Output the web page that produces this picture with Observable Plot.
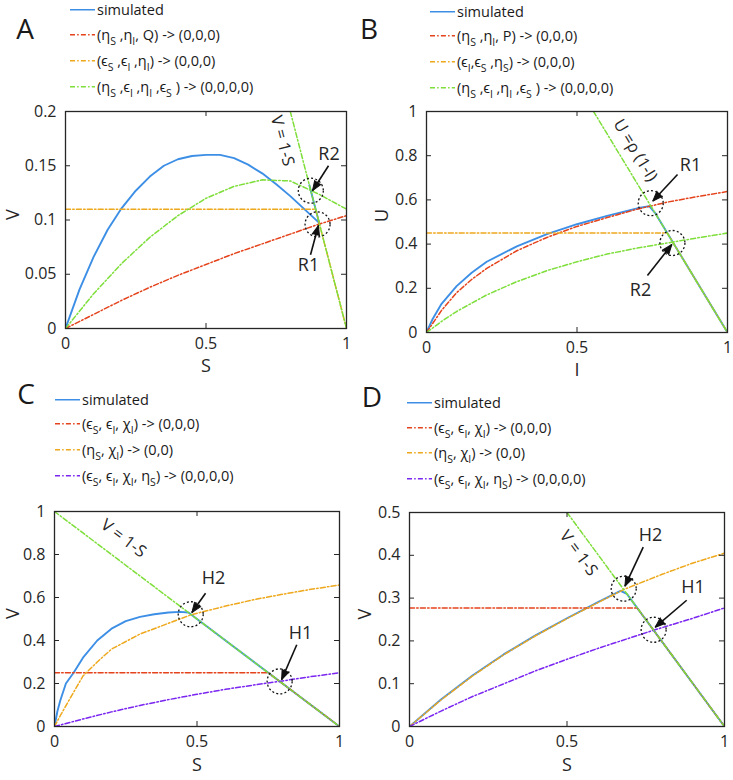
<!DOCTYPE html>
<html>
<head>
<meta charset="utf-8">
<script src="https://cdn.jsdelivr.net/npm/d3@7"></script>
<script src="https://cdn.jsdelivr.net/npm/@observablehq/plot@0.6"></script>
<style>
  html,body{margin:0;padding:0;background:#fff;}
  #fig{position:relative;width:733px;height:780px;overflow:hidden;font-family:"Open Sans",sans-serif;color:#1a1a1a;}
  .letter{position:absolute;font-size:28px;line-height:1;transform:translate(-50%,-50%);}
  .lg-row{position:absolute;display:flex;align-items:center;white-space:nowrap;font-size:14.5px;line-height:1;transform:translateY(-50%);}
  .lg-row svg{margin-right:2px;flex:none;}
  .lg-row sub{font-size:10.5px;vertical-align:-5px;line-height:0;}
</style>
</head>
<body>
<div id="fig"></div>
<script>
// ---------- Panel A : S vs V ----------
const A_xTicks = [0, 0.5, 1];
const A_yTicks = [0, 0.05, 0.1, 0.15, 0.2];
const A_simulated = [[0,0],[0.05,0.036],[0.1,0.066],[0.15,0.091],[0.2,0.111],[0.25,0.127],[0.3,0.14],[0.35,0.15],[0.4,0.156],[0.45,0.159],[0.5,0.16],[0.55,0.16],[0.6,0.157],[0.65,0.151],[0.7,0.143],[0.75,0.133],[0.8,0.122],[0.85,0.11],[0.9,0.098],[0.904,0.096],[0.868,0.132]];
const A_red = [[0,0],[0.1,0.013],[0.2,0.026],[0.3,0.038],[0.4,0.049],[0.5,0.059],[0.6,0.069],[0.7,0.078],[0.8,0.087],[0.9,0.096],[1,0.104]];
const A_orange = [[0,0.11],[0.89,0.11],[1,0]];
const A_green = [[0,0],[0.1,0.032],[0.2,0.06],[0.3,0.084],[0.4,0.104],[0.5,0.12],[0.6,0.131],[0.7,0.137],[0.8,0.136],[0.9,0.124],[1,0.11]];
const A_nullcline = [[0.8,0.2],[1,0]];
const A_legend = ["simulated", "(η<sub>S</sub> ,η<sub>I</sub>, Q) -&gt; (0,0,0)", "(ϵ<sub>S</sub> ,ϵ<sub>I</sub> ,η<sub>I</sub>) -&gt; (0,0,0)", "(η<sub>S</sub> ,ϵ<sub>I</sub> ,η<sub>I</sub> ,ϵ<sub>S</sub> ) -&gt; (0,0,0,0)"];
const A_notes = [
  {label:"R2", cx:0.873, cy:0.127, lx:0.938, ly:0.161, ax1:0.936, ay1:0.150, ax2:0.879, ay2:0.127},
  {label:"R1", cx:0.897, cy:0.096, lx:0.865, ly:0.058, ax1:0.872, ay1:0.068, ax2:0.900, ay2:0.095}
];
const A_nullText = {text:"V = 1-S", x:0.772, y:0.173};

// ---------- Panel B : I vs U ----------
const B_xTicks = [0, 0.5, 1];
const B_yTicks = [0, 0.2, 0.4, 0.6, 0.8, 1];
const B_simulated = [[0,0],[0.02,0.06],[0.05,0.13],[0.1,0.21],[0.15,0.27],[0.2,0.32],[0.3,0.39],[0.4,0.445],[0.5,0.49],[0.6,0.528],[0.7,0.562],[0.74,0.572],[0.76,0.54],[0.8,0.45],[0.82,0.405],[1,0]];
const B_red = [[0,0],[0.02,0.04],[0.05,0.1],[0.1,0.18],[0.15,0.24],[0.2,0.29],[0.3,0.37],[0.4,0.43],[0.5,0.48],[0.6,0.52],[0.7,0.558],[0.8,0.59],[0.9,0.615],[1,0.638]];
const B_orange = [[0,0.45],[0.8,0.45],[1,0]];
const B_green = [[0,0],[0.05,0.05],[0.1,0.095],[0.2,0.17],[0.3,0.23],[0.4,0.28],[0.5,0.32],[0.6,0.355],[0.7,0.382],[0.8,0.405],[0.9,0.428],[1,0.45]];
const B_nullcline = [[0.555,1],[1,0]];
const B_legend = ["simulated", "(η<sub>S</sub> ,η<sub>I</sub>, P) -&gt; (0,0,0)", "(ϵ<sub>I</sub>,ϵ<sub>S</sub> ,η<sub>S</sub>) -&gt; (0,0,0)", "(η<sub>S</sub> ,ϵ<sub>I</sub> ,η<sub>I</sub> ,ϵ<sub>S</sub> ) -&gt; (0,0,0,0)"];
const B_notes = [
  {label:"R1", cx:0.745, cy:0.585, lx:0.877, ly:0.756, ax1:0.834, ay1:0.715, ax2:0.752, ay2:0.595},
  {label:"R2", cx:0.817, cy:0.405, lx:0.711, ly:0.19, ax1:0.734, ay1:0.258, ax2:0.815, ay2:0.398}
];
const B_nullText = {text:"U =ρ (1-I)", x:0.694, y:0.824};

// ---------- Panel C : S vs V ----------
const C_xTicks = [0, 0.5, 1];
const C_yTicks = [0, 0.2, 0.4, 0.6, 0.8, 1];
const C_simulated = [[0,0],[0.01,0.07],[0.02,0.12],[0.04,0.2],[0.067,0.25],[0.1,0.32],[0.15,0.4],[0.2,0.455],[0.25,0.49],[0.3,0.51],[0.35,0.522],[0.4,0.53],[0.44,0.533],[0.47,0.53],[0.5,0.5],[1,0]];
const C_red = [[0,0.25],[0.75,0.25],[1,0]];
const C_orange = [[0,0],[0.02,0.05],[0.05,0.12],[0.1,0.235],[0.15,0.3],[0.2,0.36],[0.3,0.43],[0.4,0.48],[0.48,0.52],[0.6,0.56],[0.7,0.59],[0.8,0.615],[0.9,0.638],[1,0.658]];
const C_purple = [[0,0],[0.1,0.035],[0.2,0.068],[0.3,0.098],[0.4,0.125],[0.5,0.15],[0.6,0.173],[0.7,0.193],[0.8,0.212],[0.9,0.232],[1,0.25]];
const C_nullcline = [[0,1],[1,0]];
const C_legend = ["simulated", "(ϵ<sub>S</sub>, ϵ<sub>I</sub>, χ<sub>I</sub>) -&gt; (0,0,0)", "(η<sub>S</sub>, χ<sub>I</sub>) -&gt; (0,0)", "(ϵ<sub>S</sub>, ϵ<sub>I</sub>, χ<sub>I</sub>, η<sub>S</sub>) -&gt; (0,0,0,0)"];
const C_notes = [
  {label:"H2", cx:0.478, cy:0.522, lx:0.558, ly:0.69, ax1:0.53, ay1:0.62, ax2:0.482, ay2:0.53},
  {label:"H1", cx:0.79, cy:0.21, lx:0.863, ly:0.435, ax1:0.85, ay1:0.38, ax2:0.797, ay2:0.218}
];
const C_nullText = {text:"V = 1-S", x:0.242, y:0.875};

// ---------- Panel D : S vs V ----------
const D_xTicks = [0, 0.5, 1];
const D_yTicks = [0, 0.1, 0.2, 0.3, 0.4, 0.5];
const D_simulated = [[0,0],[0.1,0.063],[0.2,0.119],[0.3,0.169],[0.4,0.213],[0.5,0.253],[0.6,0.291],[0.67,0.317],[0.69,0.31],[1,0]];
const D_red = [[0,0.277],[0.723,0.277],[1,0]];
const D_orange = [[0,0],[0.1,0.062],[0.2,0.118],[0.3,0.168],[0.4,0.212],[0.5,0.252],[0.6,0.29],[0.68,0.32],[0.8,0.355],[0.9,0.382],[1,0.405]];
const D_purple = [[0,0],[0.1,0.036],[0.2,0.07],[0.3,0.1],[0.4,0.13],[0.5,0.157],[0.6,0.183],[0.7,0.207],[0.775,0.225],[0.9,0.253],[1,0.277]];
const D_nullcline = [[0.5,0.5],[1,0]];
const D_legend = C_legend;
const D_notes = [
  {label:"H2", cx:0.68, cy:0.322, lx:0.765, ly:0.447, ax1:0.742, ay1:0.419, ax2:0.684, ay2:0.328},
  {label:"H1", cx:0.775, cy:0.226, lx:0.9, ly:0.326, ax1:0.88, ay1:0.295, ax2:0.78, ay2:0.232}
];
const D_nullText = {text:"V = 1-S", x:0.537, y:0.405};

// ---------- styles ----------
const COL = {sim:"#3d8fe6", red:"#e4431c", orange:"#eea81c", green:"#7ede3a", purple:"#7a26f0"};
const DASH = "5,2.2,1.5,2.2";
const AXIS = "#262626";
const FONT = "Open Sans, sans-serif";

const fig = document.getElementById("fig");

function addLetter(t, x, y){
  const d = document.createElement("div");
  d.className = "letter"; d.textContent = t;
  d.style.left = x + "px"; d.style.top = y + "px";
  fig.appendChild(d);
}

function addLegend(labels, colors, x, ys){
  labels.forEach((lab, i) => {
    const r = document.createElement("div");
    r.className = "lg-row";
    r.style.left = x + "px"; r.style.top = ys[i] + "px";
    const dash = i === 0 ? "" : `stroke-dasharray="${DASH}"`;
    r.innerHTML = `<svg width="25" height="8"><line x1="0" y1="4" x2="25" y2="4" stroke="${colors[i]}" stroke-width="1.6" ${dash}/></svg><span>${lab}</span>`;
    fig.appendChild(r);
  });
}

function addPanel(p){
  const f = p.frame;
  const mL = 60, mT = 14, mR = 6, mB = 58;
  const innerW = f.r - f.l, innerH = f.b - f.t;
  const width = innerW + mL + mR, height = innerH + mT + mB;
  const xs = p.xDomain[1] - p.xDomain[0], ys = p.yDomain[1] - p.yDomain[0];
  const n = p.nullcline;
  const angle = Math.atan2((n[0][1]-n[1][1]) / ys * innerH, (n[1][0]-n[0][0]) / xs * innerW) * 180 / Math.PI;
  // screen direction of each annotation arrow (clockwise from up), for the filled head
  const headRotate = d => {
    const dx = (d.ax2 - d.ax1) / xs * innerW, dy = -(d.ay2 - d.ay1) / ys * innerH;
    return Math.atan2(dx, -dy) * 180 / Math.PI;
  };
  const marks = [];
  p.series.forEach(s => {
    marks.push(Plot.line(s.data, {x: d => d[0], y: d => d[1], stroke: s.color, strokeWidth: s.dash ? 1.5 : 1.9, strokeDasharray: s.dash || null, clip: true}));
  });
  marks.push(Plot.line(n, {x: d => d[0], y: d => d[1], stroke: COL.green, strokeWidth: 1.5, strokeDasharray: DASH, clip: true}));
  // inward ticks on all four sides
  marks.push(Plot.tickX(p.xTicks, {x: d => d, insetTop: innerH - 5, stroke: AXIS}));
  marks.push(Plot.tickX(p.xTicks, {x: d => d, insetBottom: innerH - 5, stroke: AXIS}));
  marks.push(Plot.tickY(p.yTicks, {y: d => d, insetRight: innerW - 5, stroke: AXIS}));
  marks.push(Plot.tickY(p.yTicks, {y: d => d, insetLeft: innerW - 5, stroke: AXIS}));
  marks.push(Plot.axisX({ticks: p.xTicks, tickSize: 0, tickPadding: 9, tickFormat: d => String(d), label: null, fontSize: 16}));
  marks.push(Plot.axisY({ticks: p.yTicks, tickSize: 0, tickPadding: 9, tickFormat: d => String(d), label: null, fontSize: 16}));
  marks.push(Plot.text([p.xLabel], {frameAnchor: "bottom", dy: p.xLabelOffset, text: d => d, fontSize: 18}));
  marks.push(Plot.text([p.yLabel], {frameAnchor: "left", dx: -p.yLabelOffset, rotate: -90, text: d => d, fontSize: 18}));
  marks.push(Plot.text([p.nullText], {x: "x", y: "y", text: "text", rotate: angle, fontSize: 16.5}));
  marks.push(Plot.dot(p.notes, {x: "cx", y: "cy", r: 12.5, stroke: "#111", strokeWidth: 1.3, strokeDasharray: "2,2.2", fill: "none"}));
  marks.push(Plot.link(p.notes, {x1: "ax1", y1: "ay1", x2: "ax2", y2: "ay2", stroke: "#111", strokeWidth: 1.6}));
  marks.push(Plot.vector(p.notes, {x: "ax2", y: "ay2", rotate: headRotate, length: 10, shape: "spike", r: 3.8, anchor: "end", stroke: "#111", fill: "#111", fillOpacity: 1, strokeWidth: 1}));
  marks.push(Plot.text(p.notes, {x: "lx", y: "ly", text: "label", fontSize: 18}));
  marks.push(Plot.frame({stroke: AXIS, strokeWidth: 1.3}));
  const svg = Plot.plot({
    width, height, marginLeft: mL, marginTop: mT, marginRight: mR, marginBottom: mB,
    x: {domain: p.xDomain}, y: {domain: p.yDomain},
    style: {fontFamily: FONT, fontSize: "16px", color: AXIS, background: "transparent", overflow: "visible"},
    marks
  });
  svg.style.position = "absolute";
  svg.style.left = (f.l - mL) + "px";
  svg.style.top = (f.t - mT) + "px";
  fig.appendChild(svg);
}

addPanel({frame:{l:65, r:346, t:111, b:328}, xDomain:[0,1], yDomain:[0,0.2], xTicks:A_xTicks, yTicks:A_yTicks,
  xLabel:"S", yLabel:"V", xLabelOffset:43, yLabelOffset:52,
  series:[{data:A_simulated,color:COL.sim},{data:A_red,color:COL.red,dash:DASH},{data:A_orange,color:COL.orange,dash:DASH},{data:A_green,color:COL.green,dash:DASH}],
  nullcline:A_nullcline, nullText:A_nullText, notes:A_notes});
addPanel({frame:{l:426, r:727, t:111, b:332}, xDomain:[0,1], yDomain:[0,1], xTicks:B_xTicks, yTicks:B_yTicks,
  xLabel:"I", yLabel:"U", xLabelOffset:43, yLabelOffset:44,
  series:[{data:B_simulated,color:COL.sim},{data:B_red,color:COL.red,dash:DASH},{data:B_orange,color:COL.orange,dash:DASH},{data:B_green,color:COL.green,dash:DASH}],
  nullcline:B_nullcline, nullText:B_nullText, notes:B_notes});
addPanel({frame:{l:54, r:339, t:511, b:726}, xDomain:[0,1], yDomain:[0,1], xTicks:C_xTicks, yTicks:C_yTicks,
  xLabel:"S", yLabel:"V", xLabelOffset:44, yLabelOffset:41,
  series:[{data:C_simulated,color:COL.sim},{data:C_red,color:COL.red,dash:DASH},{data:C_orange,color:COL.orange,dash:DASH},{data:C_purple,color:COL.purple,dash:DASH}],
  nullcline:C_nullcline, nullText:C_nullText, notes:C_notes});
addPanel({frame:{l:409, r:724, t:512, b:726}, xDomain:[0,1], yDomain:[0,0.5], xTicks:D_xTicks, yTicks:D_yTicks,
  xLabel:"S", yLabel:"V", xLabelOffset:44, yLabelOffset:44,
  series:[{data:D_simulated,color:COL.sim},{data:D_red,color:COL.red,dash:DASH},{data:D_orange,color:COL.orange,dash:DASH},{data:D_purple,color:COL.purple,dash:DASH}],
  nullcline:D_nullcline, nullText:D_nullText, notes:D_notes});

addLetter("A", 25, 28);
addLetter("B", 369, 28);
addLetter("C", 26, 393);
addLetter("D", 372, 396);
addLegend(A_legend, [COL.sim, COL.red, COL.orange, COL.green], 70, [10, 35, 61, 87]);
addLegend(B_legend, [COL.sim, COL.red, COL.orange, COL.green], 430, [12, 36, 62, 88]);
addLegend(C_legend, [COL.sim, COL.red, COL.orange, COL.purple], 55, [400, 424, 450, 476]);
addLegend(D_legend, [COL.sim, COL.red, COL.orange, COL.purple], 407, [403, 428, 453, 479]);
</script>
</body>
</html>
